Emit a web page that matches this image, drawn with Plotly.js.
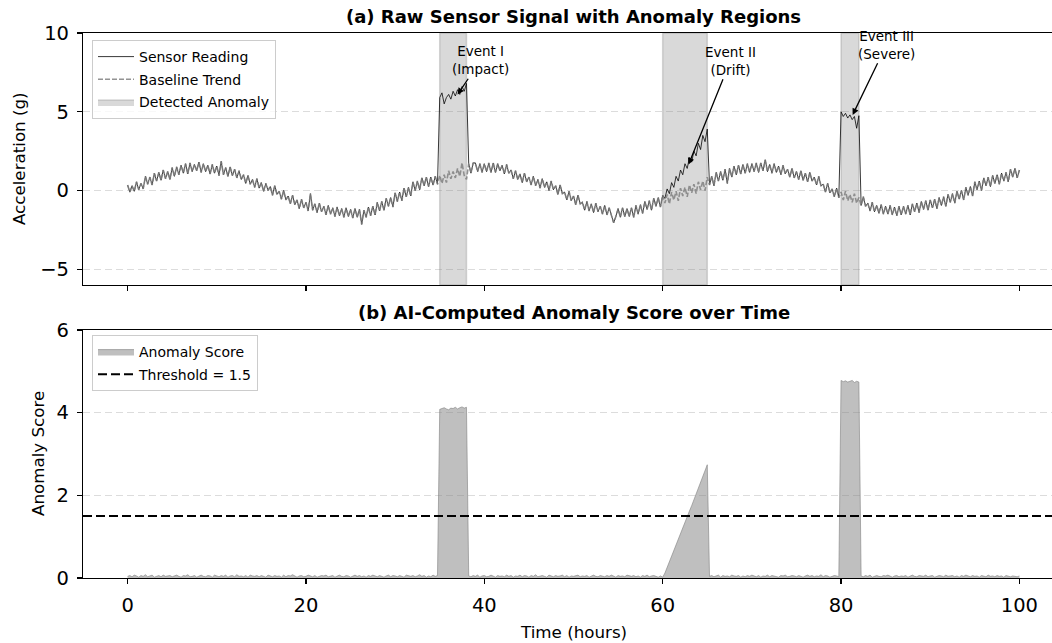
<!DOCTYPE html>
<html>
<head>
<meta charset="utf-8">
<script src="https://cdn.plot.ly/plotly-3.0.1.min.js"></script>
<style>
html, body { margin: 0; padding: 0; overflow: hidden; width: 1052px; height: 643px; background: #ffffff; }
#chart { width: 1064px; height: 643px; }
</style>
</head>
<body>
<div id="chart"></div>
<script>
// ---------------- DATA ----------------
const SAMPLE_STEP_HOURS = 0.25;

// Baseline trend (g), one value every 0.25 h from 0 to 100 h (one row = 5 h)
const baselineTrend = [
  0.35,-0.1,0.3,-0.05, 0.55,0.05,0.45,0.1, 0.9,0.4,0.85,0.35, 1.1,0.6,1.15,0.65, 1.3,0.75,1.2,0.7,
  1.45,0.9,1.5,1.0, 1.6,1.1,1.7,1.05, 1.75,1.2,1.65,1.25, 1.8,1.15,1.7,1.2, 1.6,1.05,1.65,1.1,
  1.55,0.95,1.85,1.0, 1.45,0.9,1.5,0.95, 1.35,0.8,1.25,0.7, 1.0,0.45,0.95,0.4, 0.7,0.2,0.75,0.15,
  0.5,-0.05,0.45,0.0, 0.25,-0.3,0.3,-0.25, -0.05,-0.55,0.0,-0.6, -0.35,-0.85,-0.3,-0.9, -0.6,-1.15,-0.55,-1.1,
  -0.75,-1.3,-0.2,-1.25, -0.85,-1.4,-0.8,-1.35, -1.0,-1.55,-0.95,-1.5, -1.1,-1.65,-1.05,-1.6, -1.15,-1.7,-1.1,-1.65,
  -1.2,-1.75,-1.15,-1.7, -1.2,-2.15,-1.25,-1.7, -1.05,-1.6,-1.0,-1.55, -0.75,-1.3,-0.7,-1.25, -0.5,-1.0,-0.45,-1.05,
  -0.15,-0.7,-0.1,-0.65, 0.15,-0.4,0.2,-0.35, 0.55,0.0,0.6,0.05, 0.8,0.3,0.85,0.25, 0.85,0.35,0.9,0.4,
  0.95,0.45,1.0,0.5, 1.25,0.75,1.2,0.8, 1.4,0.9,1.75,0.95, 0.7,1.7,1.1,1.75, 1.75,1.2,1.7,1.15,
  1.7,1.2,1.75,1.15, 1.75,1.15,1.7,1.25, 1.6,1.05,1.65,1.1, 1.3,0.75,1.25,0.7, 1.05,0.5,1.1,0.55,
  0.85,0.35,0.9,0.3, 0.7,0.15,0.75,0.2, 0.55,0.0,0.6,0.05, 0.3,-0.25,0.35,-0.2, -0.1,-0.6,-0.05,-0.65,
  -0.35,-0.9,-0.3,-0.85, -0.75,-1.25,-0.7,-1.3, -0.85,-1.4,-0.8,-1.35, -1.0,-1.5,-0.95,-1.55, -1.1,-1.6,-2.05,-1.65,
  -1.15,-1.7,-1.1,-1.65, -1.15,-1.65,-1.1,-1.7, -0.95,-1.5,-0.9,-1.45, -0.7,-1.2,-0.65,-1.25, -0.5,-1.0,-0.45,-1.05,
  -0.3,-0.8,-0.25,-0.85, -0.1,-0.6,-0.05,-0.65, 0.15,-0.35,0.2,-0.4, 0.35,-0.15,0.4,-0.2, 0.55,0.05,0.6,0.0,
  0.85,0.35,0.9,0.3, 1.15,0.6,1.2,0.65, 1.35,0.45,1.4,0.85, 1.55,1.0,1.6,1.05, 1.65,1.1,1.7,1.15,
  1.7,1.2,1.75,1.15, 1.75,1.25,1.95,1.2, 1.65,1.1,1.7,1.15, 1.55,1.0,1.6,1.05, 1.35,0.85,1.4,0.8,
  1.2,0.7,1.25,0.65, 1.1,0.55,1.15,0.6, 0.85,0.35,0.9,0.3, 0.4,-0.1,0.45,-0.15, 0.1,-0.4,0.15,-0.45,
  -0.1,-0.6,-0.05,-0.65, -0.25,-0.75,-0.2,-0.8, -0.45,-0.95,-0.4,-1.0, -0.8,-1.3,-0.75,-1.35, -0.95,-1.45,-0.9,-1.5,
  -1.0,-1.5,-0.95,-1.55, -1.05,-1.6,-1.0,-1.55, -1.0,-1.5,-0.95,-1.55, -0.85,-1.35,-0.8,-1.4, -0.7,-1.2,-0.65,-1.25,
  -0.6,-1.1,-0.55,-1.15, -0.45,-0.95,-0.4,-1.0, -0.25,-0.75,-0.2,-0.8, -0.05,-0.55,0.0,-0.6, 0.2,-0.3,0.25,-0.35,
  0.55,0.05,0.6,0.0, 0.8,0.3,0.85,0.25, 0.95,0.45,1.0,0.4, 1.1,0.6,1.15,0.55, 1.35,0.85,1.4,0.8,
  1.3
];

// Anomaly windows (hours)
const eventStartHours = [35, 60, 80];
const eventEndHours   = [38, 65, 82];

// Sensor readings inside each anomaly window (g), 0.25 h apart
const impactReadings = [5.9,6.2,5.5,5.9,6.1,5.8,6.3,6.0,6.4,6.1,6.6,6.3,6.8];
const driftReadings  = [-0.3,-0.5,0.1,-0.2,0.5,0.2,0.9,0.6,1.3,1.0,1.7,1.4,2.1,1.8,2.5,2.2,3.0,2.6,3.5,3.1,3.9];
const severeReadings = [5.0,4.7,4.9,4.6,4.8,4.5,4.7,3.95,4.75];

// Event annotations
const eventLabels      = ['Event I<br>(Impact)', 'Event II<br>(Drift)', 'Event III<br>(Severe)'];
const eventPointTime   = [37.0, 62.9, 81.3];
const eventPointValue  = [6.1, 1.65, 4.8];
const eventLabelTime   = [39.6, 67.6, 85.1];
const eventLabelValue  = [8.27, 8.24, 9.26];

// AI anomaly score, one value every 0.25 h from 0 to 100 h
const anomalyScore = [
  0.04,0.06,0.03,0.07,0.05,0.02,0.06,0.04,0.08,0.03,0.05,0.07,0.02,0.05,0.06,0.03,0.07,0.04,0.05,0.06,
  0.03,0.05,0.07,0.04,0.02,0.06,0.05,0.08,0.03,0.04,0.06,0.02,0.05,0.07,0.04,0.03,0.06,0.05,0.02,0.07,
  0.05,0.03,0.06,0.04,0.07,0.02,0.05,0.06,0.03,0.08,0.04,0.05,0.03,0.06,0.02,0.07,0.05,0.04,0.06,0.03,
  0.06,0.04,0.02,0.07,0.05,0.03,0.06,0.04,0.05,0.02,0.07,0.03,0.06,0.05,0.08,0.04,0.02,0.05,0.06,0.03,
  0.04,0.07,0.05,0.03,0.06,0.02,0.04,0.06,0.05,0.07,0.03,0.04,0.06,0.02,0.05,0.07,0.04,0.03,0.06,0.05,
  0.02,0.05,0.07,0.04,0.06,0.03,0.05,0.02,0.06,0.04,0.07,0.05,0.03,0.06,0.04,0.02,0.05,0.07,0.03,0.06,
  0.05,0.03,0.06,0.04,0.02,0.07,0.05,0.04,0.06,0.03,0.05,0.08,0.04,0.06,0.02,0.05,0.03,0.07,0.04,0.06,
  4.08,4.10,4.12,4.09,4.07,4.11,4.10,4.13,4.09,4.12,4.14,4.11,4.13,
  0.05,0.03,0.06,0.04,0.07,0.02,0.05,0.06,0.03,0.04,0.07,0.05,0.02,0.06,0.04,0.05,0.03,0.07,0.04,0.06,
  0.02,0.05,0.04,0.07,0.03,0.06,0.05,0.02,0.06,0.04,0.08,0.03,0.05,0.06,0.04,0.02,0.07,0.05,0.03,0.06,
  0.04,0.05,0.07,0.03,0.06,0.02,0.05,0.04,0.06,0.07,0.03,0.05,0.04,0.06,0.02,0.05,0.07,0.04,0.03,0.06,
  0.05,0.03,0.06,0.04,0.07,0.05,0.02,0.06,0.04,0.05,0.03,0.07,0.05,0.04,0.06,0.03,0.05,0.02,0.06,0.04,
  0.07,0.03,0.05,0.06,0.04,0.02,0.05,
  0.02,0.12,0.26,0.38,0.53,0.66,0.80,0.93,1.07,1.21,1.34,1.48,1.62,1.75,1.89,2.03,2.17,2.31,2.44,2.59,2.74,
  0.04,0.06,0.03,0.05,0.07,0.02,0.06,0.04,0.05,0.03,0.07,0.05,0.04,0.06,0.02,0.05,0.03,0.06,0.04,0.07,
  0.05,0.03,0.06,0.02,0.05,0.04,0.07,0.03,0.06,0.05,0.04,0.02,0.06,0.05,0.07,0.03,0.04,0.06,0.05,0.03,
  0.06,0.04,0.02,0.05,0.07,0.04,0.06,0.03,0.05,0.04,0.08,0.03,0.06,0.05,0.02,0.04,0.06,0.05,0.03,
  4.78,4.75,4.77,4.74,4.76,4.78,4.73,4.76,4.74,
  0.05,0.03,0.06,0.04,0.07,0.02,0.05,0.06,0.04,0.03,0.06,0.05,0.07,0.04,0.02,0.05,0.06,0.03,0.05,0.04,
  0.06,0.02,0.05,0.07,0.04,0.03,0.06,0.05,0.04,0.07,0.03,0.05,0.06,0.02,0.04,0.06,0.05,0.03,0.07,0.04,
  0.05,0.06,0.03,0.05,0.02,0.06,0.04,0.07,0.05,0.03,0.06,0.04,0.05,0.02,0.06,0.05,0.03,0.07,0.04,0.05,
  0.03,0.06,0.04,0.05,0.02,0.06,0.04,0.03,0.05,0.04,0.03,0.05
];
const scoreThreshold = 1.5;

// Axes
const timeRange   = [-5, 105];
const timeTicks   = [0, 20, 40, 60, 80, 100];
const accelRange  = [-6, 10];
const accelTicks  = [-5, 0, 5, 10];
const scoreRange  = [0, 6];
const scoreTicks  = [0, 2, 4, 6];

// ---------------- BUILD ----------------
const timeHours = baselineTrend.map((_, i) => i * SAMPLE_STEP_HOURS);
const scoreTime = anomalyScore.map((_, i) => i * SAMPLE_STEP_HOURS);
const sensorReading = baselineTrend.slice();
[impactReadings, driftReadings, severeReadings].forEach((seg, k) => {
  const i0 = Math.round(eventStartHours[k] / SAMPLE_STEP_HOURS);
  seg.forEach((v, j) => { sensorReading[i0 + j] = v; });
});

const FONT = '"DejaVu Sans", "Liberation Sans", sans-serif';
const traces = [];

eventStartHours.forEach((s, k) => {
  const e = eventEndHours[k];
  traces.push({
    x: [s, s, e, e, s],
    y: [accelRange[0], accelRange[1], accelRange[1], accelRange[0], accelRange[0]],
    xaxis: 'x', yaxis: 'y', mode: 'lines', fill: 'toself',
    fillcolor: 'rgba(128,128,128,0.3)',
    line: { color: 'rgba(128,128,128,0.3)', width: 1.5 },
    name: 'Detected Anomaly', legendgroup: 'anomaly', legendrank: 3,
    showlegend: k === 0, legend: 'legend', hoverinfo: 'skip'
  });
});

traces.push({
  x: timeHours, y: sensorReading, xaxis: 'x', yaxis: 'y', mode: 'lines',
  line: { color: 'rgba(0,0,0,0.78)', width: 1 },
  name: 'Sensor Reading', legendgroup: 'sensor', legendrank: 1, legend: 'legend', hoverinfo: 'skip'
});
traces.push({
  x: timeHours, y: baselineTrend, xaxis: 'x', yaxis: 'y', mode: 'lines',
  line: { color: 'rgba(128,128,128,0.85)', width: 1.6, dash: '5px,2px' },
  name: 'Baseline Trend', legendgroup: 'baseline', legendrank: 2, legend: 'legend', hoverinfo: 'skip'
});

traces.push({
  x: scoreTime, y: anomalyScore, xaxis: 'x2', yaxis: 'y2', mode: 'lines', fill: 'tozeroy',
  fillcolor: 'rgba(128,128,128,0.5)',
  line: { color: 'rgba(128,128,128,0.6)', width: 1 },
  name: 'Anomaly Score', legendgroup: 'score', legend: 'legend2', hoverinfo: 'skip'
});
traces.push({
  x: timeRange, y: [scoreThreshold, scoreThreshold], xaxis: 'x2', yaxis: 'y2', mode: 'lines',
  line: { color: '#000000', width: 2, dash: '9px,4px' },
  name: 'Threshold = ' + scoreThreshold, legendgroup: 'thr', legend: 'legend2', hoverinfo: 'skip'
});

const axisCommon = {
  ticks: 'outside', ticklen: 5, tickwidth: 1.1, tickcolor: '#000',
  showline: true, linecolor: '#000', linewidth: 1.1, mirror: true,
  zeroline: false, tickfont: { size: 19.5, family: FONT, color: '#000' },
  ticklabelstandoff: 4
};
const gridStyle = { showgrid: true, gridcolor: '#dcdcdc', gridwidth: 1, griddash: '7px,4px' };

const W = 981, L = 83, T = 33, PH = 545, BOT = 578;
const px = v => (v - L) / W;
const py = v => (BOT - v) / PH;

const annotations = eventLabels.map((txt, k) => ({
  x: eventPointTime[k], y: eventPointValue[k], xref: 'x', yref: 'y',
  ax: eventLabelTime[k], ay: eventLabelValue[k], axref: 'x', ayref: 'y',
  text: txt, showarrow: true, arrowhead: 2, arrowsize: 1, arrowwidth: 1.3,
  arrowcolor: '#000', standoff: 0, align: 'center',
  font: { size: 13.5, family: FONT, color: '#000' }
}));
annotations.push(
  { text: '<b>(a) Raw Sensor Signal with Anomaly Regions</b>', xref: 'paper', yref: 'paper',
    x: 0.5, y: py(16), xanchor: 'center', yanchor: 'middle', showarrow: false,
    font: { size: 18, family: FONT, color: '#000' } },
  { text: '<b>(b) AI-Computed Anomaly Score over Time</b>', xref: 'paper', yref: 'paper',
    x: 0.5, y: py(312), xanchor: 'center', yanchor: 'middle', showarrow: false,
    font: { size: 18, family: FONT, color: '#000' } },
  { text: 'Acceleration (g)', xref: 'paper', yref: 'paper', textangle: -90,
    x: px(19), y: py(159), xanchor: 'center', yanchor: 'middle', showarrow: false,
    font: { size: 16.7, family: FONT, color: '#000' } },
  { text: 'Anomaly Score', xref: 'paper', yref: 'paper', textangle: -90,
    x: px(38), y: py(454), xanchor: 'center', yanchor: 'middle', showarrow: false,
    font: { size: 16.7, family: FONT, color: '#000' } },
  { text: 'Time (hours)', xref: 'paper', yref: 'paper',
    x: 0.5, y: py(632), xanchor: 'center', yanchor: 'middle', showarrow: false,
    font: { size: 16.7, family: FONT, color: '#000' } }
);

const legendCommon = {
  xanchor: 'left', yanchor: 'top', itemwidth: 36,
  bgcolor: 'rgba(255,255,255,0.8)', bordercolor: '#cccccc', borderwidth: 1,
  font: { size: 14, family: FONT, color: '#000' }, tracegroupgap: 1.5
};

const layout = {
  width: 1064, height: 643,
  margin: { l: L, r: 0, t: T, b: 65 },
  paper_bgcolor: '#ffffff', plot_bgcolor: '#ffffff',
  font: { family: FONT, color: '#000', size: 14 },
  showlegend: true,
  xaxis: Object.assign({}, axisCommon, { domain: [0, 1], anchor: 'y', range: timeRange,
    tickmode: 'array', tickvals: timeTicks, showticklabels: false, showgrid: false }),
  yaxis: Object.assign({}, axisCommon, gridStyle, { domain: [py(285), 1], anchor: 'x', range: accelRange,
    tickmode: 'array', tickvals: accelTicks }),
  xaxis2: Object.assign({}, axisCommon, { domain: [0, 1], anchor: 'y2', range: timeRange,
    tickmode: 'array', tickvals: timeTicks, showgrid: false }),
  yaxis2: Object.assign({}, axisCommon, gridStyle, { domain: [0, py(330)], anchor: 'x2', range: scoreRange,
    tickmode: 'array', tickvals: scoreTicks }),
  legend: Object.assign({}, legendCommon, { x: px(92), y: py(40) }),
  legend2: Object.assign({}, legendCommon, { x: px(92), y: py(335) }),
  annotations: annotations
};

Plotly.newPlot('chart', traces, layout, { staticPlot: true, displayModeBar: false });
</script>
</body>
</html>
